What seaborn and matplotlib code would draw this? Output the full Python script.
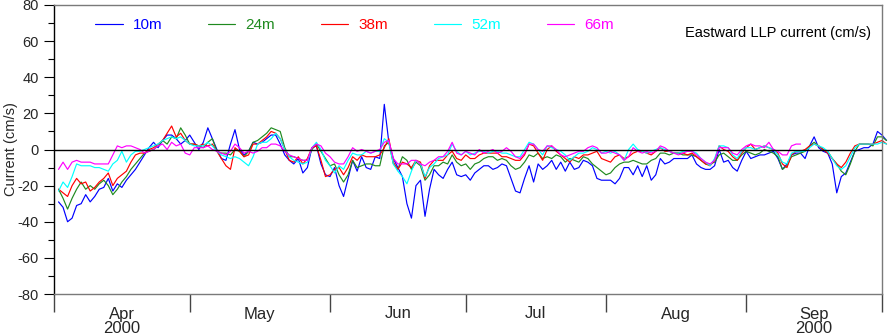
import numpy as np
import pandas as pd
import matplotlib
matplotlib.use("Agg")
import matplotlib.pyplot as plt
import seaborn as sns

# ---------------- data (daily, 2 Apr 2000 .. 2 Oct 2000) ----------------
start_date = "2000-04-02"
depths = ["10m", "24m", "38m", "52m", "66m"]
colors = ["#0000ff", "#1f8a1f", "#ff0000", "#00ffff", "#ff00ff"]

u10 = [
    -29, -32, -40, -38, -31, -30, -25, -29, -26, -22, -21, -16, -23, -19, -21, -17, -14, -11, -7, -3, 1, 4, 1, 5, 8, 8, 6, 3, 5, 8,
    4, 0, 4, 12, 6, 0, -5, -6, 3, 11, 0, -3, -1, 4, 3, 4, 6, 8, 8, 3, -3, -6, -8, -5, -13, -10, 1, 2, -8, -14,
    -15, -10, -20, -26, -16, -6, -12, -4, -10, -11, -4, -5, 25, 4, -5, -10, -15, -30, -38, -20, -17, -37, -22, -11, -14, -16, -11, -7, -14, -15,
    -14, -17, -13, -11, -9, -9, -11, -10, -8, -9, -16, -23, -24, -16, -9, -18, -8, -11, -9, -6, -11, -7, -12, -7, -11, -10, -6, -7, -9, -16, -17,
    -17, -17, -19, -16, -10, -10, -14, -9, -15, -9, -17, -14, -5, -8, -7, -5, -5, -5, -5, -3, -8, -10, -11, -11, -9, 0, -7, -6, -10, -12, -6,
    -1, -5, -4, -3, -3, -2, -1, -5, -11, -8, -3, -2, -2, -5, 2, 7, 1, -1, -2, -8, -24, -15, -13, -7, -1, 0, 1, 1, 3, 10, 8, 5,
]
u24 = [
    -22, -27, -33, -27, -22, -18, -22, -20, -22, -19, -17, -20, -25, -22, -18, -15, -11, -8, -5, -2, -1, 0, 2, 5, 3, 7, 6, 12, 8, 3,
    3, 2, 1, 4, 6, -1, -2, -2, -3, 0, -1, -4, -1, 4, 5, 7, 9, 12, 11, 10, 1, -4, -4, -5, -6, -6, 0, 3, -1, -5,
    -9, -8, -14, -18, -14, -6, -10, -9, -8, -8, -9, -9, 2, 4, -8, -11, -4, -6, -11, -7, -9, -17, -14, -9, -9, -7, -8, -3, -7, -9,
    -8, -11, -8, -7, -5, -4, -4, -6, -5, -6, -9, -11, -10, -7, -3, -4, -2, -5, -4, -5, -3, -4, -7, -5, -6, -7, -4, -5, -8, -10, -12,
    -14, -13, -10, -8, -7, -7, -6, -7, -8, -8, -6, -5, -2, -2, -3, -2, -2, -3, -3, -3, -4, -6, -8, -8, -7, -3, -2, -4, -6, -6, -3,
    -1, -2, -3, -2, 0, -1, -2, -4, -11, -9, -4, -3, -2, -1, 2, 4, 2, 0, -1, -5, -8, -12, -14, -8, -1, 3, 3, 3, 2, 7, 7, 5,
]
u38 = [
    -22, -24, -26, -20, -16, -19, -18, -23, -21, -18, -16, -13, -20, -16, -14, -12, -7, -3, -2, -2, 0, 1, 3, 5, 9, 13, 7, 9, 5, 3,
    3, 2, 3, 2, 3, -1, -5, -9, -11, 1, -1, -4, -3, 3, 3, 5, 7, 10, 9, 6, 0, -6, -7, -4, -8, -5, 1, 2, -6, -15,
    -14, -11, -10, -14, -10, -4, -6, -3, -4, -4, -4, -3, 1, 6, -7, -11, -7, -8, -10, -6, -7, -16, -9, -6, -6, -6, -3, -1, -5, -6,
    -3, -5, -5, -3, -2, -2, -2, -2, -4, -4, -5, -6, -6, -3, 3, 2, -2, -6, 0, 2, -1, -3, -5, -7, -4, -5, -3, -3, -2, -1, -5,
    -6, -7, -4, -3, -5, -4, -2, -1, -1, -2, -3, -1, 1, -1, -1, -2, -2, -2, -3, -2, -4, -6, -8, -9, -6, 2, 0, -1, -4, -6, -2,
    1, 3, 0, 1, 2, 1, 0, -2, -8, -10, -3, -1, -1, 0, 2, 3, 2, 0, -2, -5, -8, -10, -7, -2, 2, 3, 3, 3, 3, 4, 5, 3,
]
u52 = [
    -23, -18, -21, -15, -8, -9, -9, -9, -10, -10, -11, -12, -8, -6, -1, -7, -3, -1, -1, 0, 1, 2, 3, 5, 6, 7, 6, 7, 5, 3,
    2, 2, 2, 4, 2, -1, -3, -4, -5, -4, -5, -7, -9, -4, 3, 4, 4, 6, 9, 6, 0, -4, -6, -7, -8, -7, 1, 4, 0, -6,
    -9, -13, -9, -11, -6, -2, -3, -3, -1, -2, -1, -1, 6, 4, -8, -12, -15, -19, -12, -6, -8, -15, -10, -8, -5, -4, -3, 3, -1, -3,
    -1, -3, -2, -1, -1, -2, -1, -1, -2, -2, -3, -4, -4, 0, 4, 3, 0, -3, 2, 1, 0, -1, -3, -6, -4, -2, -2, -1, 1, 0, -2,
    -1, -2, -1, -3, -6, 0, 3, 0, -1, -2, -1, 0, 1, 0, -1, -2, -2, -1, -1, -1, -2, -5, -7, -9, -5, 2, 2, 1, -3, -5, -1,
    1, 1, 0, 1, 2, 1, 0, -3, -7, -8, -2, -1, -1, -1, 1, 3, 2, 1, -1, -5, -9, -11, -9, -4, 1, 3, 3, 3, 3, 3, 4, 3,
]
u66 = [
    -11, -7, -11, -7, -6, -7, -7, -7, -8, -8, -8, -8, -3, 2, 1, 2, 2, 1, 0, -2, -1, 0, 2, 3, 0, 4, 2, 3, -2, -3,
    1, 1, 1, 2, 0, -1, -2, -3, -1, 3, 1, -2, -1, -2, -1, 1, 1, 3, 3, 2, -1, -3, -4, -5, -6, -6, 1, 3, 2, -2,
    -4, -7, -8, -8, -4, 1, -1, 0, -1, -2, -1, 0, 4, 5, -5, -8, -8, -8, -6, -6, -8, -9, -7, -6, -4, -4, -1, 4, -2, -3,
    -1, -2, -3, 0, -2, -1, 0, -2, -1, 1, -1, -4, -5, -2, 3, 3, 0, -1, 2, 2, 0, -3, -4, -3, -2, -1, -1, 1, 2, 1, -2,
    -2, -1, -2, -3, -6, -4, 1, -1, -2, -1, -2, -1, 2, 1, -1, -2, -3, -2, -1, -1, -3, -5, -7, -8, -6, 1, 1, 1, -2, -3, 0,
    2, 3, 2, 2, 1, 4, 0, -1, -3, -3, 2, 3, 3,
]

month_starts = ["2000-04-01", "2000-05-01", "2000-06-01", "2000-07-01",
                "2000-08-01", "2000-09-01", "2000-10-01"]
month_labels = ["Apr\n2000", "May", "Jun", "Jul", "Aug", "Sep\n2000"]
title_text = "Eastward LLP current (cm/s)"
y_label = "Current (cm/s)"

# ---------------- build long table ----------------
series = [u10, u24, u38, u52, u66]
frames = []
for name, vals in zip(depths, series):
    d = pd.date_range(start_date, periods=len(vals), freq="D")
    frames.append(pd.DataFrame({"date": d, "value": vals, "depth": name}))
df = pd.concat(frames, ignore_index=True)

# ---------------- style ----------------
sns.set_style("white")
plt.rcParams["font.family"] = ["Liberation Sans", "DejaVu Sans"]
plt.rcParams["axes.unicode_minus"] = False

fig = plt.figure(figsize=(8.9, 3.36), dpi=100)
ax = fig.add_axes([54 / 890, 1 - 294 / 336, 828 / 890, 289 / 336])

sns.lineplot(data=df, x="date", y="value", hue="depth", hue_order=depths,
             palette=dict(zip(depths, colors)), linewidth=0.85, legend=False,
             ax=ax, clip_on=False, zorder=2)
data_lines = list(ax.lines[:5])

ax.axhline(0, color="black", linewidth=1.0, zorder=3)

ms = pd.to_datetime(month_starts)
ax.set_xlim(ms[0], ms[-1])
ax.set_ylim(-80, 80)

# y axis
ax.set_yticks(np.arange(-80, 81, 20))
ax.set_yticks(np.arange(-70, 80, 20), minor=True)
ax.tick_params(axis="y", which="major", direction="out", length=7, width=0.8,
               labelsize=10.5, pad=4, left=True, color="black")
ax.tick_params(axis="y", which="minor", direction="out", length=4, width=0.8,
               left=True, color="black")
ax.set_ylabel(y_label, fontsize=10.5)
ax.yaxis.set_label_coords(-0.043, 0.5)

# x axis
mids = [ms[i] + (ms[i + 1] - ms[i]) / 2 for i in range(len(ms) - 1)]
ax.set_xticks(ms)
ax.set_xticklabels([""] * len(ms))
ax.set_xticks(mids, minor=True)
ax.set_xticklabels(month_labels, minor=True)
ax.tick_params(axis="x", which="major", direction="out", length=13, width=1.0,
               bottom=True, color="#444444")
ax.tick_params(axis="x", which="minor", length=0, labelsize=12, pad=9)
for lbl in ax.get_xticklabels(minor=True):
    lbl.set_linespacing(0.95)
ax.set_xlabel("")

# spines
for side in ["top", "right", "bottom"]:
    ax.spines[side].set_color("#7a7a7a")
    ax.spines[side].set_linewidth(1.0)
ax.spines["left"].set_color("black")
ax.spines["left"].set_linewidth(1.0)

# legend
leg = ax.legend(data_lines, depths, loc="upper left", ncol=5, frameon=False,
                bbox_to_anchor=(41 / 828, 1 - 13 / 289), borderaxespad=0,
                borderpad=0, fontsize=11, handlelength=1.8, handletextpad=0.65,
                columnspacing=3.0, labelcolor="linecolor")

ax.text((871 - 54) / 828, (294 - 33) / 289, title_text, transform=ax.transAxes,
        ha="right", va="center", fontsize=10.5, color="black")

fig.savefig("out.png", dpi=100)
